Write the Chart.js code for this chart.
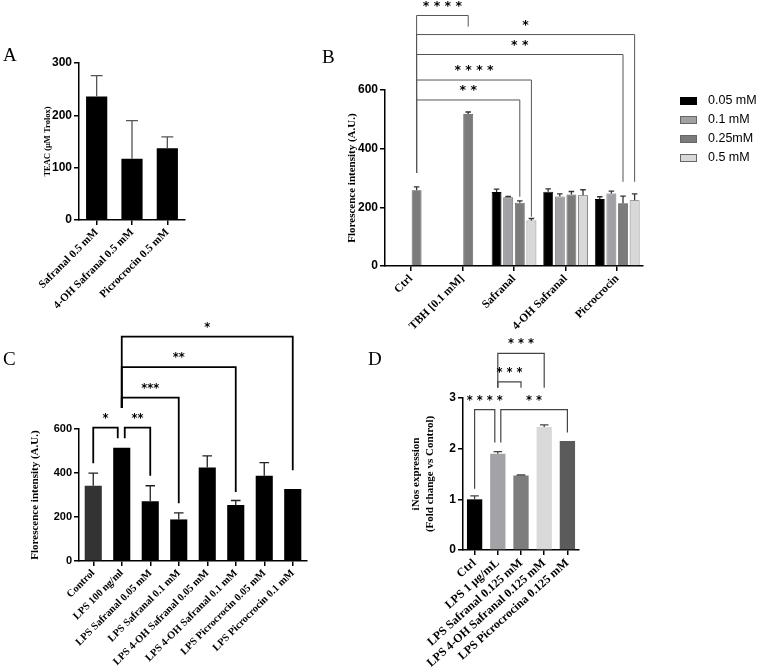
<!DOCTYPE html>
<html>
<head>
<meta charset="utf-8">
<script src="https://cdn.jsdelivr.net/npm/chart.js@4.4.1/dist/chart.umd.min.js"></script>
<style>
  body { margin: 0; background: #fff; }
  #fig { position: relative; width: 767px; height: 672px; background: #fff; overflow: hidden; }
  canvas { position: absolute; }
  .tag { position: absolute; font-family: 'Liberation Serif', serif; font-size: 19px; line-height: 1; color: #000; }
</style>
</head>
<body>
<div id="fig">
  <canvas id="chartA" width="230" height="330" style="left:0;top:0"></canvas>
  <canvas id="chartB" width="447" height="335" style="left:320px;top:0"></canvas>
  <canvas id="chartC" width="330" height="352" style="left:0;top:320px"></canvas>
  <canvas id="chartD" width="290" height="342" style="left:350px;top:330px"></canvas>
  <div class="tag" style="left:3px;top:45px">A</div>
  <div class="tag" style="left:322px;top:47px">B</div>
  <div class="tag" style="left:3px;top:349px">C</div>
  <div class="tag" style="left:368px;top:349px">D</div>
</div>
<script>
// Panel A - TEAC
const aLabels = ['Safranal 0.5 mM', '4-OH Safranal 0.5 mM', 'Picrocrocin 0.5 mM'];
const aValues = [236, 117, 137];
const aErrors = [40, 73, 22];

// Panel B - fluorescence, grouped by concentration
const bLabels = ['Ctrl', 'TBH [0.1 mM]', 'Safranal', '4-OH Safranal', 'Picrocrocin'];
const bSeries = ['0.05 mM', '0.1 mM', '0.25mM', '0.5 mM'];
const b005 = [null, null, 252, 253, 228];
const b01 = [null, null, 234, 237, 247];
const b025 = [258, 518, 216, 244, 214];
const b05 = [null, null, 155, 241, 224];
const b005Err = [0, 0, 10, 10, 8];
const b01Err = [0, 0, 3, 9, 8];
const b025Err = [12, 7, 6, 10, 24];
const b05Err = [0, 0, 7, 19, 22];
const bColors = ['#000000', '#a1a1a5', '#7b7b7b', '#d8d8d8'];

// Panel C - LPS fluorescence
const cLabels = ['Control', 'LPS 100 ng/ml', 'LPS Safranal 0.05 mM', 'LPS Safranal 0.1 mM',
  'LPS 4-OH Safranal 0.05 mM', 'LPS 4-OH Safranal 0.1 mM', 'LPS Picrocrocin 0.05 mM', 'LPS Picrocrocin 0.1 mM'];
const cValues = [342, 515, 272, 189, 425, 254, 387, 327];
const cErrors = [57, 0, 70, 30, 53, 21, 60, 0];
const cColors = ['#333333', '#000', '#000', '#000', '#000', '#000', '#000', '#000'];

// Panel D - iNos
const dLabels = ['Ctrl', 'LPS 1 µg/mL', 'LPS Safranal 0.125 mM', 'LPS 4-OH Safranal 0.125 mM', 'LPS Picrocrocina 0.125 mM'];
const dValues = [1.00, 1.90, 1.47, 2.43, 2.15];
const dErrors = [0.07, 0.04, 0.01, 0.04, 0];
const dColors = ['#000000', '#a3a3a7', '#7d7d7d', '#d9d9d9', '#5b5b5b'];

// significance brackets: [datasetIndex, barIndex] ends, level and leg ends in data units
const bBrackets = [
  { from: [2, 0], to: [2, 1], level: 854, leg1: 317, leg2: 816, text: '* * * *' },
  { from: [2, 0], to: [3, 4], level: 789, leg1: 317, leg2: 287, text: '*' },
  { from: [2, 0], to: [2, 4], level: 721, leg1: 317, leg2: 287, text: '* *' },
  { from: [2, 0], to: [3, 2], level: 634, leg1: 317, leg2: 168, text: '* * * *' },
  { from: [2, 0], to: [2, 2], level: 566, leg1: 317, leg2: 236, text: '* *' }
];
const cBrackets = [
  { from: [0, 0], to: [0, 1], level: 606, leg1: 444, leg2: 558, text: '*', s2: -4 },
  { from: [0, 1], to: [0, 2], level: 606, leg1: 558, leg2: 387, text: '**', s1: 3 },
  { from: [0, 1], to: [0, 3], level: 743, leg1: 695, leg2: 262, text: '***' },
  { from: [0, 1], to: [0, 5], level: 881, leg1: 695, leg2: 314, text: '**' },
  { from: [0, 1], to: [0, 7], level: 1020, leg1: 695, leg2: 413, text: '*' }
];
const dBrackets = [
  { from: [0, 1], to: [0, 3], level: 3.88, leg1: 3.2, leg2: 3.2, text: '* * *' },
  { from: [0, 1], to: [0, 2], level: 3.32, leg1: 3.2, leg2: 3.2, text: '* * *' },
  { from: [0, 0], to: [0, 1], level: 2.77, leg1: 1.21, leg2: 2.12, text: '* * * *', s2: -3 },
  { from: [0, 1], to: [0, 4], level: 2.77, leg1: 2.12, leg2: 2.32, text: '* *', s1: 3 }
];

const errorBars = {
  id: 'errorBars',
  afterDatasetsDraw(chart) {
    const ctx = chart.ctx, y = chart.scales.y;
    chart.data.datasets.forEach((ds, d) => {
      if (!ds.errors) return;
      chart.getDatasetMeta(d).data.forEach((bar, i) => {
        const v = ds.data[i], e = ds.errors[i];
        if (v == null || !e) return;
        const top = y.getPixelForValue(v), end = y.getPixelForValue(v + e);
        const cap = bar.width * 0.28;
        ctx.save();
        ctx.strokeStyle = ds.errorColor || '#333';
        ctx.lineWidth = 1.3;
        ctx.beginPath();
        ctx.moveTo(bar.x, top); ctx.lineTo(bar.x, end);
        ctx.moveTo(bar.x - cap, end); ctx.lineTo(bar.x + cap, end);
        ctx.stroke();
        ctx.restore();
      });
    });
  }
};

function bracketPlugin(items, style) {
  return {
    id: 'brackets',
    afterDraw(chart) {
      const ctx = chart.ctx, y = chart.scales.y;
      const px = (ref, shift) => chart.getDatasetMeta(ref[0]).data[ref[1]].x + (shift || 0);
      ctx.save();
      ctx.strokeStyle = style.color;
      ctx.lineWidth = style.width;
      ctx.fillStyle = '#000';
      ctx.font = style.font;
      ctx.textAlign = 'center';
      ctx.textBaseline = 'middle';
      items.forEach(b => {
        const x1 = px(b.from, b.s1), x2 = px(b.to, b.s2), yl = y.getPixelForValue(b.level);
        ctx.beginPath();
        ctx.moveTo(x1, y.getPixelForValue(b.leg1));
        ctx.lineTo(x1, yl);
        ctx.lineTo(x2, yl);
        ctx.lineTo(x2, y.getPixelForValue(b.leg2));
        ctx.stroke();
        ctx.fillText(b.text, (x1 + x2) / 2, yl - style.gap);
      });
      ctx.restore();
    }
  };
}

// legend of panel B, drawn to the right of the plot
const sideLegend = {
  id: 'sideLegend',
  afterDraw(chart) {
    const ctx = chart.ctx;
    ctx.save();
    ctx.font = '12.5px "Liberation Sans", Arial, sans-serif';
    ctx.textBaseline = 'middle';
    chart.data.datasets.forEach((ds, i) => {
      const yy = 101 + i * 19;
      ctx.fillStyle = ds.backgroundColor;
      ctx.fillRect(360, yy - 3.5, 17, 7);
      ctx.strokeStyle = i === 0 ? '#000' : '#666';
      ctx.lineWidth = 1;
      ctx.strokeRect(360.5, yy - 3.5, 16, 7);
      ctx.fillStyle = '#000';
      ctx.fillText(ds.label, 388, yy);
    });
    ctx.restore();
  }
};

function scalesFor(o) {
  const rot = o.rotation || 45;
  return {
    x: {
      grid: { drawOnChartArea: false, offset: false, tickLength: 5, color: '#000', lineWidth: 1.5 },
      border: { color: '#000', width: 1.5 },
      ticks: {
        autoSkip: false, minRotation: rot, maxRotation: rot, color: '#000', padding: 1,
        font: { family: '"Liberation Serif", serif', weight: 'bold', size: o.xFont }
      },
      afterFit: s => { s.height = o.xHeight; }
    },
    y: {
      min: 0, max: o.yMax,
      grid: { drawOnChartArea: false, tickLength: 5, color: '#000', lineWidth: 1.5 },
      border: { color: '#000', width: 1.5 },
      ticks: {
        stepSize: o.yStep, color: '#000', padding: 2,
        font: { family: '"Liberation Sans", Arial, sans-serif', weight: 'bold', size: o.yFont }
      },
      title: {
        display: true, text: o.yTitle, color: '#000',
        font: { family: '"Liberation Serif", serif', weight: 'bold', size: o.titleFont }
      },
      afterFit: s => { s.width = o.yWidth; }
    }
  };
}

const baseOpts = {
  responsive: false,
  animation: false,
  devicePixelRatio: 1,
  plugins: { legend: { display: false }, tooltip: { enabled: false } }
};

// A
new Chart(document.getElementById('chartA'), {
  type: 'bar',
  data: {
    labels: aLabels,
    datasets: [{ data: aValues, errors: aErrors, errorColor: '#555', backgroundColor: '#000',
      barPercentage: 0.6, categoryPercentage: 1 }]
  },
  options: Object.assign({}, baseOpts, {
    layout: { padding: { left: 39, right: 45, top: 63, bottom: 0 } },
    scales: scalesFor({ yMax: 300, yStep: 100, yTitle: 'TEAC (µM Trolox)', yWidth: 40, xHeight: 110,
      xFont: 11, yFont: 12, titleFont: 8.5 })
  }),
  plugins: [errorBars]
});

// B
const bValues = [b005, b01, b025, b05];
const bErrors = [b005Err, b01Err, b025Err, b05Err];
new Chart(document.getElementById('chartB'), {
  type: 'bar',
  data: {
    labels: bLabels,
    datasets: bSeries.map((name, i) => ({
      label: name, data: bValues[i], errors: bErrors[i], errorColor: '#333',
      backgroundColor: bColors[i], borderColor: i === 0 ? '#000' : '#555', borderWidth: 0.8,
      barPercentage: 0.85, categoryPercentage: 0.9
    }))
  },
  options: Object.assign({}, baseOpts, {
    layout: { padding: { left: 22, right: 124, top: 90, bottom: 0 } },
    scales: scalesFor({ yMax: 600, yStep: 200, yTitle: 'Florescence intensity (A.U.)', yWidth: 43, xHeight: 69,
      xFont: 11.5, yFont: 12, titleFont: 11 })
  }),
  plugins: [errorBars, bracketPlugin(bBrackets, { color: '#555', width: 1, gap: 9, font: 'bold 12.5px "DejaVu Sans", sans-serif' }), sideLegend]
});

// C
new Chart(document.getElementById('chartC'), {
  type: 'bar',
  data: {
    labels: cLabels,
    datasets: [{ data: cValues, errors: cErrors, errorColor: '#222', backgroundColor: cColors,
      barPercentage: 0.6, categoryPercentage: 1 }]
  },
  options: Object.assign({}, baseOpts, {
    layout: { padding: { left: 25, right: 23, top: 109, bottom: 0 } },
    scales: scalesFor({ yMax: 600, yStep: 200, yTitle: 'Florescence intensity (A.U.)', yWidth: 54, xHeight: 111,
      xFont: 10.5, yFont: 11, titleFont: 11 })
  }),
  plugins: [errorBars, bracketPlugin(cBrackets, { color: '#000', width: 1.8, gap: 9, font: 'bold 11.5px "DejaVu Sans", sans-serif' })]
});

// D
new Chart(document.getElementById('chartD'), {
  type: 'bar',
  data: {
    labels: dLabels,
    datasets: [{ data: dValues, errors: dErrors, errorColor: '#444', backgroundColor: dColors,
      barPercentage: 0.66, categoryPercentage: 1 }]
  },
  options: Object.assign({}, baseOpts, {
    layout: { padding: { left: 56, right: 61, top: 68, bottom: 0 } },
    scales: scalesFor({ yMax: 3, yStep: 1, yTitle: ['iNos expression', '(Fold change vs Control)'], yWidth: 57, xHeight: 122,
      xFont: 12, yFont: 12, titleFont: 11, rotation: 42 })
  }),
  plugins: [errorBars, bracketPlugin(dBrackets, { color: '#444', width: 1.2, gap: 9, font: 'bold 11.5px "DejaVu Sans", sans-serif' })]
});
</script>
</body>
</html>
